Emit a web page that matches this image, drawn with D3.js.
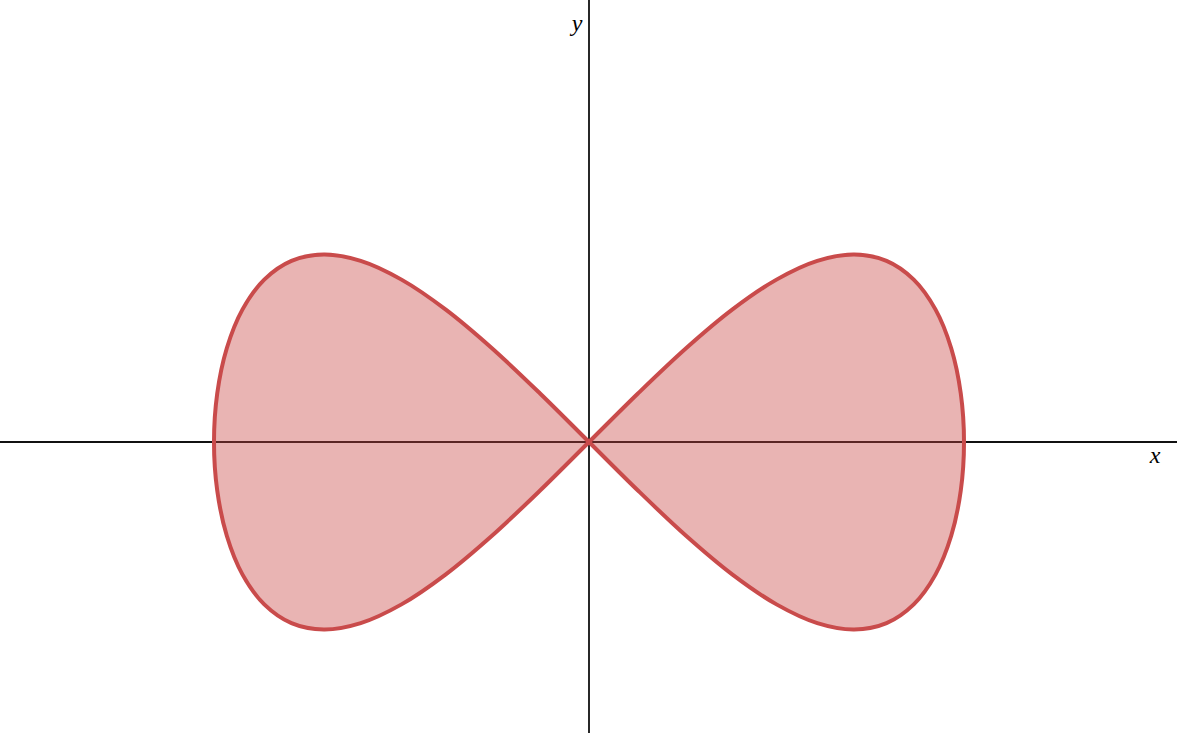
<!DOCTYPE html>
<html>
<head>
<meta charset="utf-8">
<script src="https://cdn.jsdelivr.net/npm/d3@7"></script>
<style>
  html, body { margin: 0; padding: 0; background: #fff; }
  svg { display: block; }
</style>
</head>
<body>
<svg id="chart" width="1177" height="733"></svg>
<script>
// Curve outline points (data units), traversed as one closed loop
const curveX = [
  0, 0.1305, 0.2588, 0.3827, 0.5, 0.6088, 0.7071, 0.7934, 0.8660, 0.9239, 0.9659, 0.9914,
  1, 0.9914, 0.9659, 0.9239, 0.8660, 0.7934, 0.7071, 0.6088, 0.5, 0.3827, 0.2588, 0.1305,
  0, -0.1305, -0.2588, -0.3827, -0.5, -0.6088, -0.7071, -0.7934, -0.8660, -0.9239, -0.9659, -0.9914,
  -1, -0.9914, -0.9659, -0.9239, -0.8660, -0.7934, -0.7071, -0.6088, -0.5, -0.3827, -0.2588, -0.1305
];
const curveY = [
  0, 0.1294, 0.25, 0.3536, 0.4330, 0.4830, 0.5, 0.4830, 0.4330, 0.3536, 0.25, 0.1294,
  0, -0.1294, -0.25, -0.3536, -0.4330, -0.4830, -0.5, -0.4830, -0.4330, -0.3536, -0.25, -0.1294,
  0, 0.1294, 0.25, 0.3536, 0.4330, 0.4830, 0.5, 0.4830, 0.4330, 0.3536, 0.25, 0.1294,
  0, -0.1294, -0.25, -0.3536, -0.4330, -0.4830, -0.5, -0.4830, -0.4330, -0.3536, -0.25, -0.1294
];
const axisLabels = ["x", "y"];

const W = 1177, H = 733;
const svg = d3.select("#chart");
const x = d3.scaleLinear().domain([-1, 1]).range([589 - 375, 589 + 375]);
const y = d3.scaleLinear().domain([-1, 1]).range([442 + 375, 442 - 375]);

// axes
svg.append("line").attr("x1", 0).attr("x2", W).attr("y1", y(0)).attr("y2", y(0))
  .attr("stroke", "#111").attr("stroke-width", 1.8);
svg.append("line").attr("x1", x(0)).attr("x2", x(0)).attr("y1", 0).attr("y2", H)
  .attr("stroke", "#111").attr("stroke-width", 1.8);

const pts = curveX.map((v, i) => [v, curveY[i]]);
const line = d3.line().x(d => x(d[0])).y(d => y(d[1])).curve(d3.curveCatmullRomClosed.alpha(0.5));

svg.append("path").attr("d", line(pts))
  .attr("fill", "#c74440").attr("fill-opacity", 0.4).attr("fill-rule", "nonzero")
  .attr("stroke", "none");
svg.append("path").attr("d", line(pts))
  .attr("fill", "none").attr("stroke", "#c94b4b").attr("stroke-width", 4)
  .attr("stroke-linejoin", "round");

// axis labels
svg.append("text").text(axisLabels[0]).attr("x", 1155).attr("y", 463)
  .attr("text-anchor", "middle").attr("font-family", "'Liberation Serif', 'Times New Roman', serif")
  .attr("font-style", "italic").attr("font-size", 24).attr("fill", "#000");
svg.append("text").text(axisLabels[1]).attr("x", 577).attr("y", 31)
  .attr("text-anchor", "middle").attr("font-family", "'Liberation Serif', 'Times New Roman', serif")
  .attr("font-style", "italic").attr("font-size", 24).attr("fill", "#000");
</script>
</body>
</html>
